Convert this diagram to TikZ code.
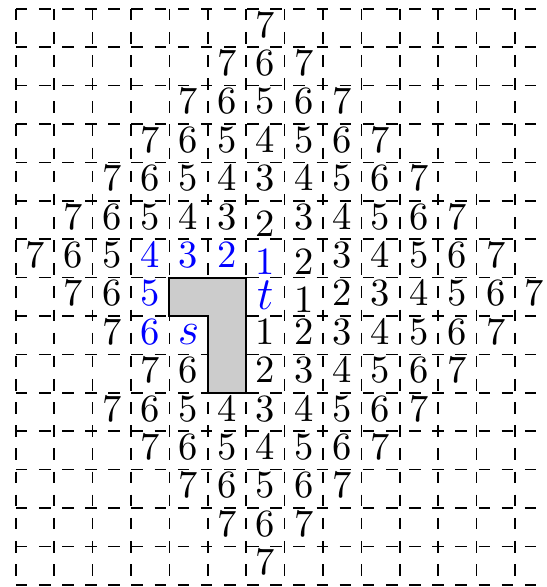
\documentclass[tikz,border=0pt]{standalone}
\begin{document}
\begin{tikzpicture}[x=0.35cm,y=-0.35cm,
  gridline/.style={dashed,line width=0.4pt},
  num/.style={anchor=base,inner sep=0pt,font=\normalsize},
  pathnum/.style={num,text=blue},
  bigletter/.style={anchor=base,inner sep=0pt,text=blue,font=\fontsize{13}{15}\selectfont},
  obstacle/.style={fill=gray!40,draw=black,line width=0.5pt}]
\useasboundingbox (-0.4115,-0.229) rectangle (13.807,15.057);
\foreach \i in {0,...,13} \draw[gridline] (\i,0) -- (\i,15);
\foreach \j in {0,...,15} \draw[gridline] (0,\j) -- (14,\j);
\draw[obstacle] (4,7) -- (6,7) -- (6,10) -- (5,10) -- (5,8) -- (4,8) -- cycle;
\foreach \c/\r/\v in {6/0/7,
  5/1/7,6/1/6,7/1/7,
  4/2/7,5/2/6,6/2/5,7/2/6,8/2/7,
  3/3/7,4/3/6,5/3/5,6/3/4,7/3/5,8/3/6,9/3/7,
  2/4/7,3/4/6,4/4/5,5/4/4,6/4/3,7/4/4,8/4/5,9/4/6,10/4/7,
  1/5/7,2/5/6,3/5/5,4/5/4,5/5/3,7/5/3,8/5/4,9/5/5,10/5/6,11/5/7,
  0/6/7,1/6/6,2/6/5,8/6/3,9/6/4,10/6/5,11/6/6,12/6/7,
  1/7/7,2/7/6,8/7/2,9/7/3,10/7/4,11/7/5,12/7/6,13/7/7,
  2/8/7,6/8/1,7/8/2,8/8/3,9/8/4,10/8/5,11/8/6,12/8/7,
  3/9/7,4/9/6,6/9/2,7/9/3,8/9/4,9/9/5,10/9/6,11/9/7,
  2/10/7,3/10/6,4/10/5,5/10/4,6/10/3,7/10/4,8/10/5,9/10/6,10/10/7,
  3/11/7,4/11/6,5/11/5,6/11/4,7/11/5,8/11/6,9/11/7,
  4/12/7,5/12/6,6/12/5,7/12/6,8/12/7,
  5/13/7,6/13/6,7/13/7,
  6/14/7}
  \node[num] (n\c-\r) at (\c+0.5,\r+0.737) {\v};
\foreach \c/\r/\v in {6/5/2,7/6/2,7/7/1}
  \node[num] (n\c-\r) at (\c+0.5,\r+0.917) {\v};
\foreach \c/\r/\v in {3/6/4,4/6/3,5/6/2,3/7/5,3/8/6}
  \node[pathnum] (n\c-\r) at (\c+0.5,\r+0.737) {\v};
\node[pathnum] (n6-6) at (6.5,6.917) {1};
\node[bigletter] (t) at (6.5,7.83) {$t$};
\node[bigletter] (s) at (4.5,8.74) {$s$};
\end{tikzpicture}
\end{document}
